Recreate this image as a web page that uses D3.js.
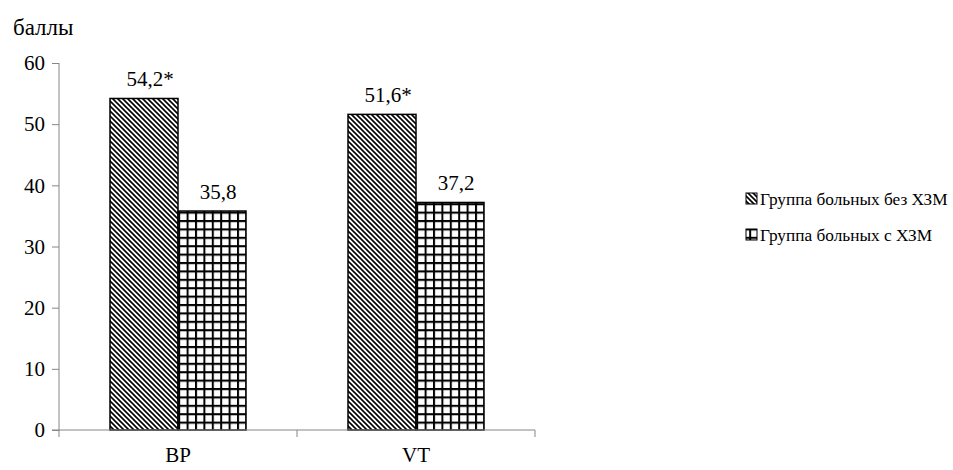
<!DOCTYPE html>
<html><head><meta charset="utf-8">
<script src="https://cdn.jsdelivr.net/npm/d3@7"></script>
<style>
@font-face{font-family:"ChartSerif";src:local("Liberation Serif"),local("LiberationSerif"),local("LiberationSerif-Regular"),local("Tinos"),local("Times New Roman");}
svg text{font-family:"Liberation Serif","ChartSerif","Tinos","Times New Roman";}
</style>
</head><body style="margin:0">
<script>
const categories = ["BP", "VT"];
const seriesNames = ["Группа больных без ХЗМ", "Группа больных с ХЗМ"];
const withoutValues = [54.2, 51.6];
const withValues = [35.8, 37.2];
const valueLabels = [["54,2*", "35,8"], ["51,6*", "37,2"]];
const yTicks = [0, 10, 20, 30, 40, 50, 60];
const yTitle = "баллы";

const W = 953, H = 470;
const FF = '"Liberation Serif", "ChartSerif", "Tinos", "Times New Roman"';
const svg = d3.select("body").append("svg").attr("width", W).attr("height", H).style("display","block");
const defs = svg.append("defs");
const p1 = defs.append("pattern").attr("id","diag").attr("patternUnits","userSpaceOnUse")
  .attr("width",5).attr("height",5);
p1.append("rect").attr("width",5).attr("height",5).attr("fill","#fff");
p1.append("path").attr("d","M-1,-1 L6,6 M-1,4 L1,6 M4,-1 L6,1").attr("stroke","#000").attr("stroke-width",1.6);
const p2 = defs.append("pattern").attr("id","grid").attr("patternUnits","userSpaceOnUse")
  .attr("width",8.4).attr("height",8.4).attr("x",178).attr("y",430);
p2.append("rect").attr("width",8.4).attr("height",8.4).attr("fill","#fff");
p2.append("path").attr("d","M1,0 V8.4 M0,1 H8.4").attr("stroke","#000").attr("stroke-width",2);
const fills = ["url(#diag)","url(#grid)"];

const x0 = d3.scaleBand().domain(categories).range([59, 535]).paddingInner(0).paddingOuter(0);
const x1 = d3.scaleBand().domain([0,1]).range([51, 187]);
const y = d3.scaleLinear().domain([0, 60]).range([430, 63]);

// y axis
const yAxis = svg.append("g").attr("transform","translate(59,0)")
  .call(d3.axisLeft(y).tickValues(yTicks).tickSize(7).tickPadding(7));
yAxis.select(".domain").attr("stroke","#868686").attr("d","M0,63V430");
yAxis.selectAll(".tick line").attr("stroke","#868686");

const data = categories.map((c,i)=>({cat:c, vals:[withoutValues[i], withValues[i]], labels:valueLabels[i]}));
const g = svg.append("g");
const groups = g.selectAll("g.cat").data(data).join("g").attr("class","cat")
  .attr("transform", d=>`translate(${x0(d.cat)},0)`);
groups.selectAll("rect").data(d=>d.vals.map((v,j)=>({v,j}))).join("rect")
  .attr("x", d=>x1(d.j)).attr("width", x1.bandwidth())
  .attr("y", d=>y(d.v)).attr("height", d=>y(0)-y(d.v))
  .attr("fill", d=>fills[d.j]).attr("stroke","#000").attr("stroke-width",1.5);
groups.selectAll("text.val").data(d=>d.vals.map((v,j)=>({v,j,l:d.labels[j]}))).join("text")
  .attr("class","val").attr("text-anchor","middle")
  .attr("x", d=>x1(d.j)+x1.bandwidth()/2 + 6).attr("y", d=>y(d.v)-12)
  .attr("font-size",21).text(d=>d.l);

// x axis
const xAxis = svg.append("g").attr("transform","translate(0,430)")
  .call(d3.axisBottom(x0).tickSize(0).tickPadding(17));
xAxis.select(".domain").attr("stroke","#868686").attr("d","M52,0H535");
svg.append("g").selectAll("line").data([59, 59+x0.step(), 59+2*x0.step()]).join("line")
  .attr("x1",d=>d).attr("x2",d=>d).attr("y1",430).attr("y2",437).attr("stroke","#868686");

svg.append("text").attr("x",13).attr("y",35).attr("font-size",23).text(yTitle);

// legend
const lg = svg.append("g");
const legendTexts = [];
seriesNames.forEach((n,i)=>{
  const yy = 205 + i*36;
  lg.append("rect").attr("x",746).attr("y",yy-12).attr("width",11).attr("height",11)
    .attr("fill",fills[i]).attr("stroke","#000").attr("stroke-width",1);
  legendTexts.push(lg.append("text").attr("x",760).attr("y",yy).attr("font-size",20).text(n));
});

svg.selectAll("g").attr("font-family", null);
svg.selectAll("text").attr("font-family", FF).style("font-family", FF).attr("fill","#000");
yAxis.selectAll(".tick text").attr("font-size",21);
xAxis.selectAll(".tick text").attr("font-size",21);
// keep legend inside the window: shrink font to fit if the available font is wider
const maxLen = d3.max(legendTexts, t=>t.node().getComputedTextLength());
if (maxLen > 188) {
  const fs = Math.floor(20 * 188 / maxLen * 10) / 10;
  legendTexts.forEach(t=>t.attr("font-size", fs));
}
</script>
</body></html>
